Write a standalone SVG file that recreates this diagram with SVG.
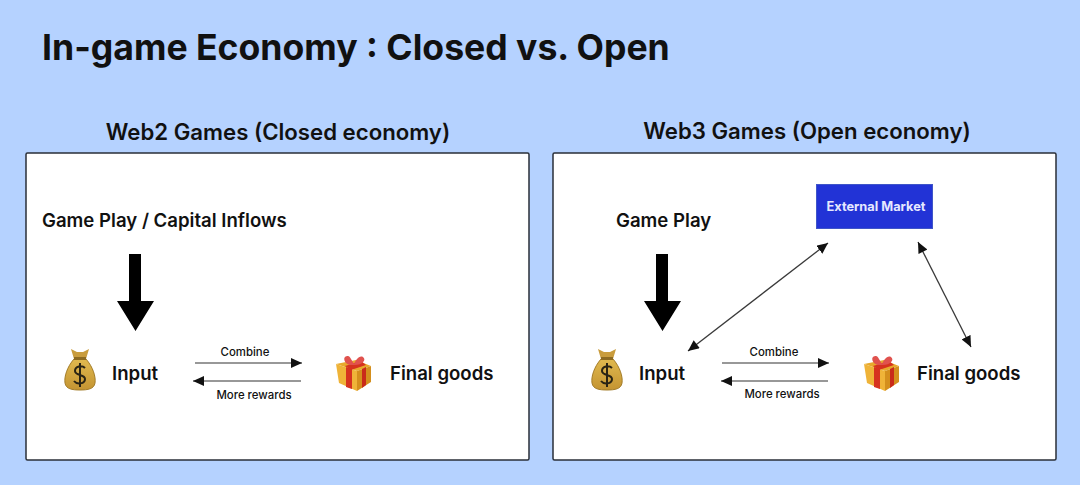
<svg xmlns="http://www.w3.org/2000/svg" width="1080" height="485" viewBox="0 0 1080 485">
<defs>
<style>
text{font-family:"Inter","Liberation Sans",sans-serif;fill:#111}
.title{font-size:35.600px;font-weight:700}
.h{font-size:22.200px;font-weight:600;text-anchor:middle}
.l{font-size:18.600px;font-weight:600}
.s{font-size:11.400px;font-weight:500;text-anchor:middle}
.m{font-size:12.800px;font-weight:700;fill:#e6e8ff;text-anchor:middle}
.panel{fill:#fff;stroke:#2a2f38;stroke-width:1.5}
.t{stroke:#3a3a3a;stroke-width:1.3;fill:none;marker-end:url(#a);marker-start:url(#as)}
.o{stroke:#333;stroke-width:1.2;fill:none;marker-end:url(#a)}
</style>
<linearGradient id="bagfill" x1="0" y1="0" x2="0" y2="1"><stop offset="0" stop-color="#e0b94f"/><stop offset="1" stop-color="#c49432"/></linearGradient>
<marker id="a" markerUnits="userSpaceOnUse" markerWidth="12" markerHeight="10" refX="11" refY="5" orient="auto"><path d="M0 0L11 5L0 10Z" fill="#111"/></marker>
<marker id="as" markerUnits="userSpaceOnUse" markerWidth="12" markerHeight="10" refX="0" refY="5" orient="auto"><path d="M11 0L0 5L11 10Z" fill="#111"/></marker>
<g id="bag">
<path d="M-9-24L-3-21L3-21L9-24L6-14L-6-14Z" fill="#c99c3c"/>
<path d="M-6-14C-13-6-16 4-15 10C-14 16-8 17 0 17C8 17 14 16 15 10C16 4 13-6 6-14Z" fill="url(#bagfill)" stroke="#a37c28" stroke-width="1"/>
<rect x="-6" y="-16" width="12" height="3" fill="#8d6a20"/>
<path d="M5-5C2-8-5-7-5-2C-5 3 5 1 5 6C5 11-3 12-6 8M0-10V14" fill="none" stroke="#2a2414" stroke-width="2"/>
</g>
<g id="gift">
<path d="M-17-9L3-13L18-7L4-2Z" fill="#e8a92c"/>
<path d="M-17-9L4-2V18L-14 10Z" fill="#efb338"/>
<path d="M4-2L18-7V9L4 18Z" fill="#d48f1d"/>
<path d="M-7-6V14L-1 16V-4Z" fill="#d6321f"/>
<path d="M9-4V15L13 12V-6Z" fill="#c92a1a"/>
<path d="M-8-7L8-12L13-8L-2-3Z" fill="#d6321f"/>
<path d="M-1-8C-10-8-11-18-5-17C-3-17-1-12 1-9C3-13 6-18 10-16C14-13 9-7-1-8Z" fill="#e0524e"/>
</g>
</defs>
<rect width="1080" height="485" fill="#b5d2ff"/>
<text class="title" x="42" y="60">In-game Economy : Closed vs. Open</text>
<text class="h" x="278" y="140">Web2 Games (Closed economy)</text>
<text class="h" x="807" y="139">Web3 Games (Open economy)</text>
<g id="web2-panel"><rect class="panel" x="26" y="153" width="503" height="307" rx="1.5"/></g>
<g id="web3-panel"><rect class="panel" x="553" y="153" width="503" height="307" rx="1.5"/></g>
<g id="web2-inflows"><text class="l" x="42" y="227">Game Play / Capital Inflows</text></g>
<g id="web2-input"><use href="#bag" x="80" y="373"/><text class="l" x="112" y="380">Input</text></g>
<g id="web2-goods"><use href="#gift" x="353" y="373"/><text class="l" x="390" y="380">Final goods</text></g>
<g id="web3-play"><text class="l" x="616" y="227">Game Play</text></g>
<g id="web3-input"><use href="#bag" x="607" y="373"/><text class="l" x="639" y="380">Input</text></g>
<g id="web3-goods"><use href="#gift" x="881" y="373"/><text class="l" x="917" y="380">Final goods</text></g>
<g id="external-market"><rect x="816.500" y="184.500" width="116" height="44" fill="#2233d6" stroke="#3f55c8"/><text class="m" x="876" y="211">External Market</text></g>
<g id="connectors">
<path d="M129 254H141V301H154L135.500 331L117 301H129Z" fill="#000"/>
<path d="M656 254H668V301H681L662.500 331L644 301H656Z" fill="#000"/>
<path class="o" d="M195 363H302"/><path class="o" d="M301 381H193"/>
<path class="o" d="M722 363H829"/><path class="o" d="M828 381H721"/>
<path class="t" d="M688 351L828 243"/>
<path class="t" d="M918 242L971 347"/>
</g>
<g id="labels">
<text class="s" x="245" y="356">Combine</text><text class="s" x="254" y="399">More rewards</text>
<text class="s" x="774" y="356">Combine</text><text class="s" x="782" y="398">More rewards</text>
</g>
</svg>
